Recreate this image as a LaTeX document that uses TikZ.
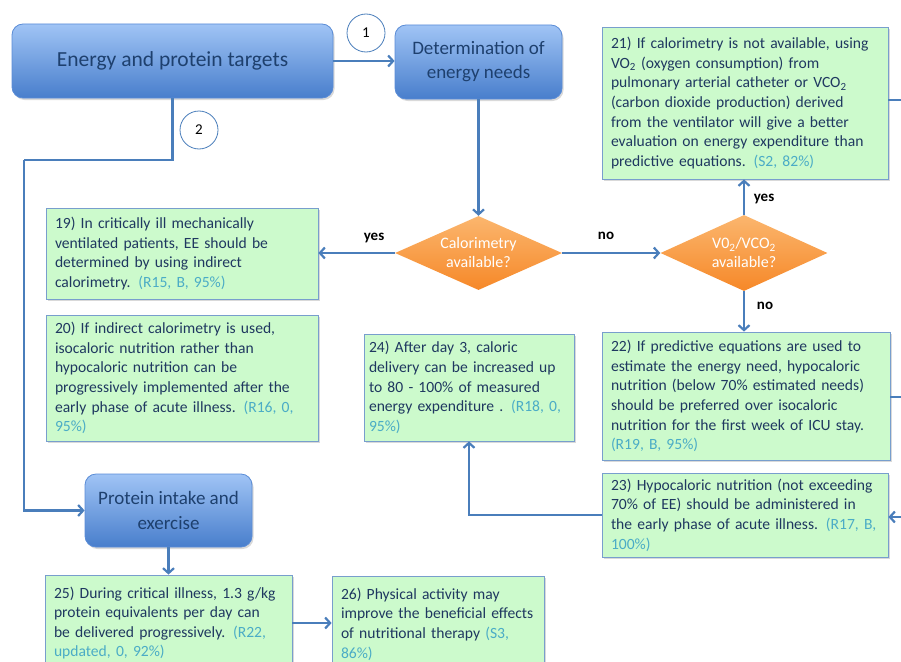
\documentclass[tikz,border=0pt]{standalone}
\usepackage{fontspec}
\setmainfont{Carlito}
\usetikzlibrary{shapes.geometric,arrows.meta,shadows}

\definecolor{flow}{RGB}{74,126,187}
\definecolor{recfill}{RGB}{204,250,204}
\definecolor{recline}{RGB}{120,158,205}
\definecolor{rectext}{RGB}{31,56,96}
\definecolor{refcol}{RGB}{75,172,198}
\definecolor{headtop}{RGB}{160,196,245}
\definecolor{headbot}{RGB}{72,126,204}
\definecolor{headline}{RGB}{90,140,214}
\definecolor{headtext}{RGB}{30,64,110}
\definecolor{dectop}{RGB}{251,182,110}
\definecolor{decbot}{RGB}{246,136,40}

\newcommand{\rf}[1]{{\color{refcol}#1}}

\begin{document}
\begin{tikzpicture}[x=1pt,y=-1pt,
  rec/.style={draw=recline, line width=0.8pt, fill=recfill, text=rectext,
    align=left, text width=#1, inner xsep=9pt, inner ysep=0pt,
    font=\fontsize{15.6}{19.6}\selectfont,
    drop shadow={opacity=0.3, shadow xshift=1.5pt, shadow yshift=-2pt}},
  head/.style={draw=headline, line width=0.8pt, rounded corners=11pt,
    top color=headtop, bottom color=headbot, text=headtext, align=center,
    inner sep=0pt,
    drop shadow={opacity=0.3, shadow xshift=1.5pt, shadow yshift=-2pt}},
  decision/.style={diamond, aspect=2.25, inner sep=0pt, top color=dectop, bottom color=decbot,
    text=white, align=center, font=\fontsize{16}{19}\selectfont},
  num/.style={circle, draw=flow, line width=0.8pt, fill=white, minimum size=38pt,
    inner sep=0pt, font=\fontsize{15}{17}\selectfont},
  answer/.style={font=\fontsize{15}{17}\selectfont\bfseries},
  arr/.style={draw=flow, line width=2.6pt, -{Straight Barb[length=5pt,width=11pt,line width=2.2pt]}},
  lin/.style={draw=flow, line width=2.6pt}
]
\useasboundingbox (0,0) rectangle (901,661);

% blue headers
\node[head, minimum width=321pt, minimum height=74pt, font=\fontsize{21.5}{25}\selectfont]
  (energy) at (172.5,61) {Energy and protein targets};
\node[head, minimum width=167pt, minimum height=74pt, font=\fontsize{19}{24}\selectfont]
  (determ) at (478.5,62) {Determination of\\energy needs};
\node[head, minimum width=167pt, minimum height=73pt, font=\fontsize{19}{25}\selectfont]
  (protein) at (168.5,510.5) {Protein intake and\\exercise};

\node[num] (one) at (366,33) {1};
\node[num] (two) at (199,130) {2};

% decisions
\node[decision, minimum width=167pt, minimum height=74pt] (calo) at (478.5,253)
  {Calorimetry\\available?};
\node[decision, minimum width=167pt, minimum height=76pt] (vo) at (744,253)
  {V0\textsubscript{2}/VCO\textsubscript{2}\\available?};

% recommendations
\node[rec=268pt, minimum height=152pt] (r21) at (745,103)
  {21) If calorimetry is not available, using\\
   VO\textsubscript{2} (oxygen consumption) from\\
   pulmonary arterial catheter or VCO\textsubscript{2}\\
   (carbon dioxide production) derived\\
   from the ventilator will give a better\\
   evaluation on energy expenditure than\\
   predictive equations. \rf{(S2, 82\%)}};
\node[rec=254pt, minimum height=91pt] (r19) at (182,253.5)
  {19) In critically ill mechanically\\
   ventilated patients, EE should be\\
   determined by using indirect\\
   calorimetry. \rf{(R15, B, 95\%)}};
\node[rec=254pt, minimum height=126pt] (r20) at (182,378)
  {20) If indirect calorimetry is used,\\
   isocaloric nutrition rather than\\
   hypocaloric nutrition can be\\
   progressively implemented after the\\
   early phase of acute illness. \rf{(R16, 0,}\\
   \rf{95\%)}};
\node[rec=200pt, inner xsep=5pt, minimum height=107pt] (r24) at (469,387.5)
  {24) After day 3, caloric\\
   delivery can be increased up\\
   to 80 - 100\% of measured\\
   energy expenditure . \rf{(R18, 0,}\\
   \rf{95\%)}};
\node[rec=270pt, minimum height=128pt] (r22) at (746,396)
  {22) If predictive equations are used to\\
   estimate the energy need, hypocaloric\\
   nutrition (below 70\% estimated needs)\\
   should be preferred over isocaloric\\
   nutrition for the first week of ICU stay.\\
   \rf{(R19, B, 95\%)}};
\node[rec=268pt, minimum height=84pt] (r23) at (745,515)
  {23) Hypocaloric nutrition (not exceeding\\
   70\% of EE) should be administered in\\
   the early phase of acute illness. \rf{(R17, B,}\\
   \rf{100\%)}};
\node[rec=229pt, minimum height=96pt] (r25) at (168.5,623)
  {25) During critical illness, 1.3 g/kg\\
   protein equivalents per day can\\
   be delivered progressively. \rf{(R22,}\\
   \rf{updated, 0, 92\%)}};
\node[rec=194pt, minimum height=96pt] (r26) at (438,624)
  {26) Physical activity may\\
   improve the beneficial effects\\
   of nutritional therapy \rf{(S3,}\\
   \rf{86\%)}};

% answers
\node[answer] (yes1) at (374,238) {yes};
\node[answer] (no1) at (606,236) {no};
\node[answer] (yes2) at (764,199) {yes};
\node[answer] (no2) at (765,306) {no};

% free ends on the right edge
\coordinate (off21) at (915,100);
\coordinate (off22) at (915,397);
\coordinate (off23) at (915,517);
\coordinate (bend) at (24,160);

% connectors
\draw[arr] (energy.east) -- (energy.east -| determ.west);
\draw[arr] (determ.south) -- (calo.north);
\draw[arr] (calo.west) -- (calo.west -| r19.east);
\draw[arr] (calo.east) -- (vo.west);
\draw[arr] (vo.north) -- (vo.north |- r21.south);
\draw[arr] (vo.south) -- (vo.south |- r22.north);
\draw[lin] (energy.south) |- (bend);
\draw[arr] (bend) |- (protein.west);
\draw[arr] (protein.south) -- (protein.south |- r25.north);
\draw[arr] (r25.east) -- (r25.east -| r26.west);
\draw[arr] (r23.west) -| (r24.south);
\draw[lin] (r21.east |- off21) -- (off21);
\draw[lin] (r22.east |- off22) -- (off22);
\draw[arr] (off23) -- (off23 -| r23.east);
\end{tikzpicture}
\end{document}
